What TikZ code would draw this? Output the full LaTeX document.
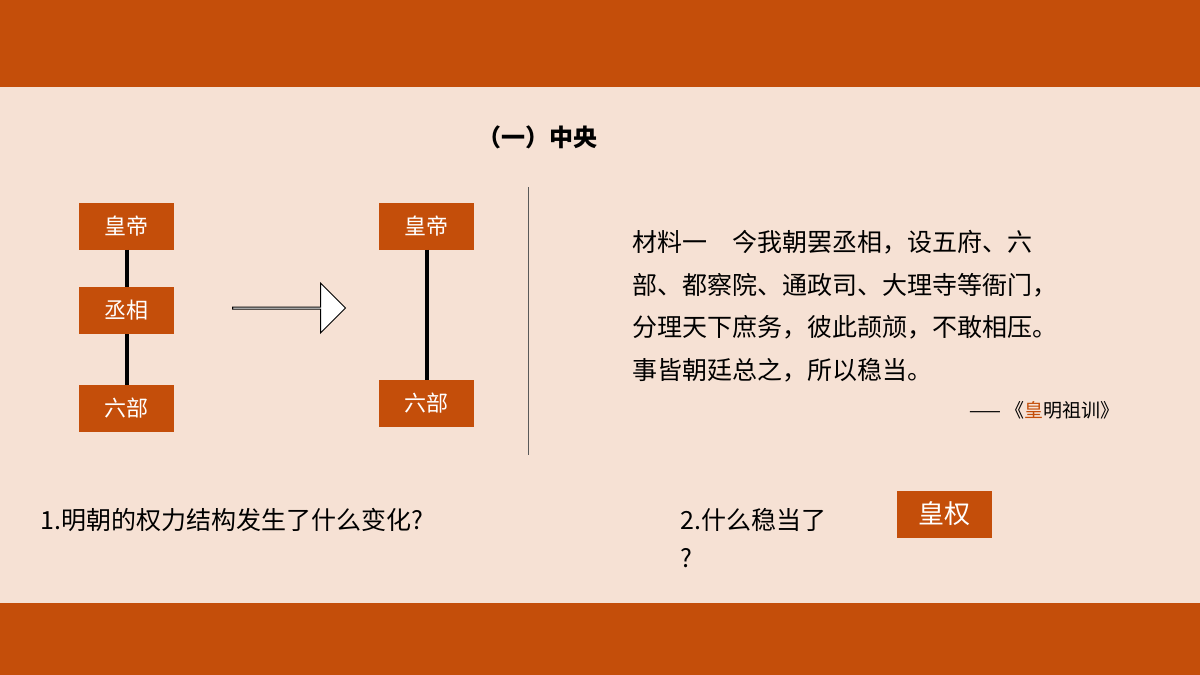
\documentclass[tikz,border=0pt]{standalone}
\usepackage{fontspec}
\setmainfont{Liberation Serif}
\newfontfamily\cjk{Noto Sans CJK SC}
\usetikzlibrary{shapes.arrows}
\definecolor{band}{RGB}{196,78,10}
\definecolor{bg}{RGB}{246,225,212}
\tikzset{
 rank/.style={fill=band,text=white,minimum width=95pt,minimum height=47pt,inner sep=0pt,font=\cjk\fontsize{22}{22}\selectfont},
 link/.style={line width=4pt,black},
 txt/.style={anchor=west,inner sep=0pt,font=\cjk\fontsize{25}{25}\selectfont}
}
\begin{document}
\begin{tikzpicture}[x=1pt,y=-1pt]
\fill[bg] (0,0) rectangle (1200,675);
\fill[band] (0,0) rectangle (1200,87);
\fill[band] (0,603) rectangle (1200,675);
\node[font=\cjk\bfseries\fontsize{24}{24}\selectfont] (title) at (537,137) {（一）中央};
\node[rank] (e1) at (126.5,226) {皇帝};
\node[rank] (c1) at (126.5,310.5) {丞相};
\node[rank] (l1) at (126.5,408.5) {六部};
\draw[link] (e1) -- (c1);
\draw[link] (c1) -- (l1);
\node[single arrow,draw=black,fill=white,line width=1pt,minimum height=113pt,minimum width=50pt,single arrow head extend=12pt,single arrow tip angle=90,inner sep=0pt] (arr) at (288.5,308) {};
\node[rank] (e2) at (426.5,226) {皇帝};
\node[rank] (l2) at (426.5,403.5) {六部};
\draw[link] (e2) -- (l2);
\coordinate (d1) at (528,187); \coordinate (d2) at (528,455);
\draw[gray!70!black,line width=0.8pt] (d1) -- (d2);
\node[txt] (m1) at (632,242) {材料一\quad 今我朝罢丞相，设五府、六};
\node[txt] (m2) at (632,285) {部、都察院、通政司、大理寺等衙门，};
\node[txt] (m3) at (632,327) {分理天下庶务，彼此颉颃，不敢相压。};
\node[txt] (m4) at (632,370) {事皆朝廷总之，所以稳当。};
\node[anchor=east,inner sep=0pt,font=\cjk\fontsize{19}{19}\selectfont] (src) at (1120,410) {—— 《\textcolor{band}{皇}明祖训》};
\node[txt] (q1) at (40,520) {1.明朝的权力结构发生了什么变化?};
\node[txt] (q2) at (680,520) {2.什么稳当了};
\node[txt] (q2b) at (680,558) {?};
\node[rank,font=\cjk\fontsize{26}{26}\selectfont] (ans) at (944.5,514) {皇权};
\end{tikzpicture}
\end{document}
